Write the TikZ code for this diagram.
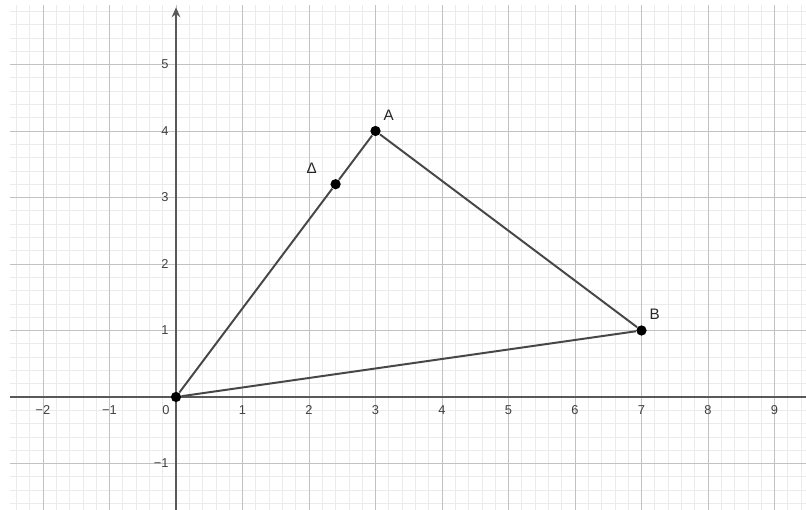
\documentclass[tikz,border=0pt]{standalone}
\usepackage{fontspec}
\setmainfont{Liberation Sans}
\usetikzlibrary{arrows.meta,positioning}

\begin{document}
\begin{tikzpicture}[
    x=1cm,y=1cm,
    minorgrid/.style={draw=black!8,line width=0.3pt},
    majorgrid/.style={draw=black!24,line width=0.4pt},
    axis/.style={draw=black!65,line width=0.6pt},
    edge/.style={draw=black!72,line width=0.85pt},
    dot/.style={circle,fill=black,inner sep=0pt,minimum size=4.4pt},
    tick/.style={font=\fontsize{5.5}{6.5}\selectfont,text=black!75,inner sep=1pt},
    ptlabel/.style={font=\fontsize{6.5}{7.5}\selectfont,text=black!85,inner sep=1pt}
]
    \useasboundingbox (-2.647,-1.699) rectangle (9.474,5.970);
    \fill[white] (-2.647,-1.699) rectangle (9.474,5.970);

    % grid
    \draw[minorgrid,step=0.2] (-2.5,-1.699) grid (9.474,5.9);
    \draw[majorgrid,step=1] (-2.5,-1.699) grid (9.474,5.9);

    % axes
    \draw[axis] (-2.5,0) -- (9.474,0);
    \draw[axis,-{Stealth[length=1.5mm,width=1.3mm]}] (0,-1.699) -- (0,5.86);

    % ticks
    \foreach \x/\t in {-2/−2,-1/−1,1/1,2/2,3/3,4/4,5/5,6/6,7/7,8/8,9/9}
        \node[tick] at (\x,-0.2) {\t};
    \node[tick] at (-0.15,-0.2) {0};
    \foreach \y/\t in {-1/−1,1/1,2/2,3/3,4/4,5/5}
        \node[tick,anchor=east] at (-0.07,\y) {\t};

    % points
    \node[dot] (O) at (0,0) {};
    \node[dot] (A) at (3,4) {};
    \node[dot] (B) at (7,1) {};
    \node[dot] (D) at (2.4,3.2) {};

    \node[ptlabel,above right=0.5mm and 0.2mm of A] (Alab) {A};
    \node[ptlabel,above right=0.6mm and 0.2mm of B] (Blab) {B};
    \node[ptlabel,above left=0.6mm and 1.8mm of D] (Dlab) {Δ};

    \draw[edge] (O) -- (D);
    \draw[edge] (D) -- (A);
    \draw[edge] (A) -- (B);
    \draw[edge] (B) -- (O);
\end{tikzpicture}
\end{document}
